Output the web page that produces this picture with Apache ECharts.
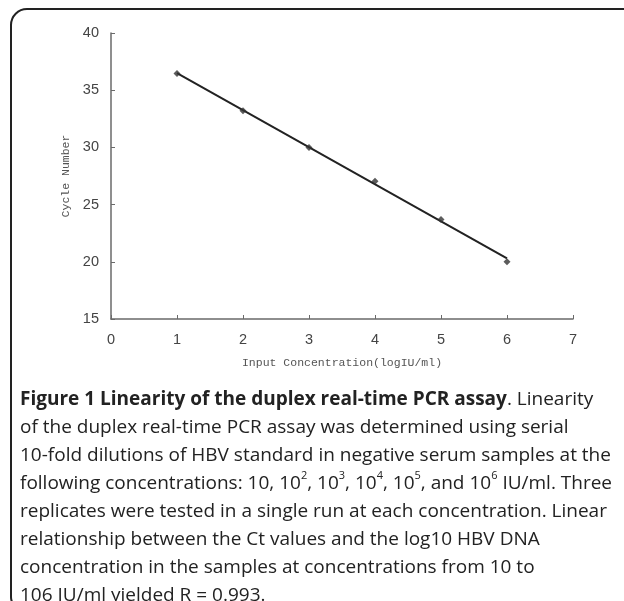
<!DOCTYPE html>
<html>
<head>
<meta charset="utf-8">
<script src="https://cdn.jsdelivr.net/npm/echarts@6/dist/echarts.min.js"></script>
<style>
  html, body { margin: 0; padding: 0; background: #fff; }
  #chart { width: 624px; height: 601px; }
</style>
</head>
<body>
<div id="chart"></div>
<script>
// values
var concLog = [1, 2, 3, 4, 5, 6];
var cycleNum = [36.45, 33.2, 30.0, 27.05, 23.7, 20.0];
// fitted line end points, as drawn
var trendX = [1, 6];
var trendY = [36.5, 20.3];

var captionLines = [
  '{b|Figure 1 Linearity of the duplex real-time PCR assay}. Linearity',
  'of the duplex real-time PCR assay was determined using serial',
  '10-fold dilutions of HBV standard in negative serum samples at the',
  'following concentrations: 10, 10{s|2}, 10{s|3}, 10{s|4}, 10{s|5}, and 10{s|6} IU/ml. Three',
  'replicates were tested in a single run at each concentration. Linear',
  'relationship between the Ct values and the log10 HBV DNA',
  'concentration in the samples at concentrations from 10 to',
  '106 IU/ml yielded R = 0.993.'
];

var chart = echarts.init(document.getElementById('chart'));

var pts = concLog.map(function (x, i) { return [x, cycleNum[i]]; });
var trend = trendX.map(function (x, i) { return [x, trendY[i]]; });

var axisGrey = '#6a6a6a';
var monoFont = '"Liberation Mono", "DejaVu Sans Mono", monospace';
var capFont = '"Open Sans", "Noto Sans", sans-serif';

var option = {
  animation: false,
  backgroundColor: '#fff',
  grid: { left: 111, right: 51, top: 33, bottom: 282 },
  xAxis: {
    type: 'value',
    min: 0, max: 7, interval: 1,
    name: 'Input Concentration(logIU/ml)',
    nameLocation: 'middle',
    nameGap: 38,
    nameTextStyle: { fontFamily: monoFont, fontSize: 11.5, color: '#555' },
    axisLine: { show: true, lineStyle: { color: axisGrey, width: 1.5 } },
    axisTick: { show: true, inside: true, length: 4, lineStyle: { color: axisGrey } },
    axisLabel: { color: '#444', fontSize: 14.5, fontFamily: 'Liberation Sans', margin: 13 },
    splitLine: { show: false }
  },
  yAxis: {
    type: 'value',
    min: 15, max: 40, interval: 5,
    name: 'Cycle Number',
    nameLocation: 'middle',
    nameGap: 31,
    nameTextStyle: { fontFamily: monoFont, fontSize: 11.5, color: '#555' },
    axisLine: { show: true, lineStyle: { color: axisGrey, width: 1.5 } },
    axisTick: { show: true, inside: true, length: 4, lineStyle: { color: axisGrey } },
    axisLabel: { color: '#444', fontSize: 14.5, fontFamily: 'Liberation Sans', margin: 12 },
    splitLine: { show: false }
  },
  series: [
    {
      type: 'line',
      data: trend,
      showSymbol: false,
      lineStyle: { color: '#222', width: 2 },
      z: 2
    },
    {
      type: 'scatter',
      data: pts,
      symbol: 'diamond',
      symbolSize: 7,
      itemStyle: { color: '#333' },
      z: 3
    }
  ],
  graphic: [
    {
      type: 'rect',
      shape: { x: 11, y: 9, width: 700, height: 600, r: [16, 0, 0, 12] },
      style: { fill: 'none', stroke: '#222', lineWidth: 2 }
    },
    {
      type: 'text',
      left: 20,
      top: 386,
      style: {
        text: captionLines.join('\n'),
        fontFamily: capFont,
        fontSize: 19,
        lineHeight: 28,
        fill: '#222',
        rich: {
          b: { fontWeight: 'bold', fontSize: 19, fontFamily: capFont, fill: '#222' },
          s: { fontSize: 11, fontFamily: capFont, verticalAlign: 'top', lineHeight: 24 }
        }
      }
    }
  ]
};

chart.setOption(option);
</script>
</body>
</html>
